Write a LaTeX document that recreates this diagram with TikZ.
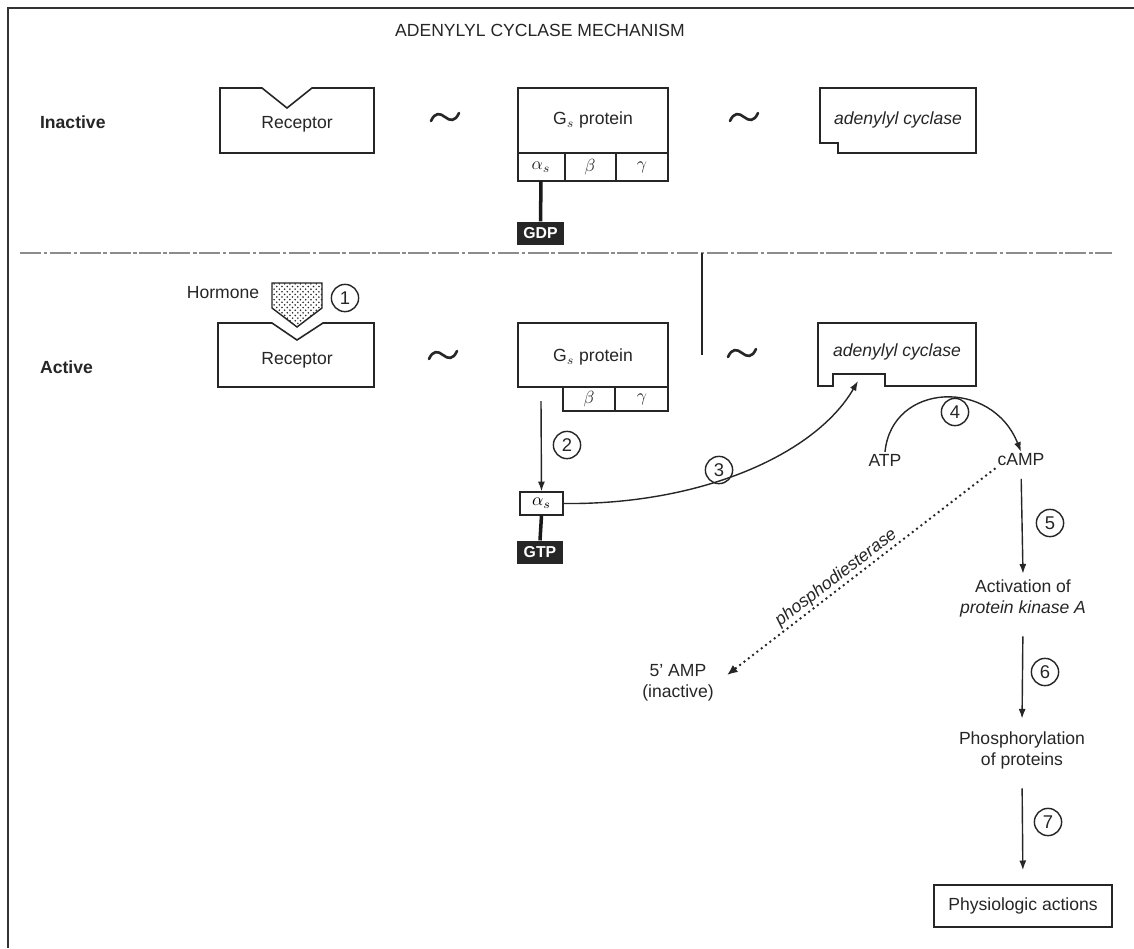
\documentclass[tikz,border=0pt]{standalone}
\usepackage{fontspec}
\setmainfont{Liberation Sans}
\usetikzlibrary{arrows.meta,patterns,calc}
\begin{document}
\begin{tikzpicture}[x=0.02cm,y=-0.02cm,
  lbl/.style={font=\fontsize{10}{12}\selectfont, text=black!85, inner sep=1pt},
  side/.style={lbl, anchor=west, font=\fontsize{10}{12}\selectfont\bfseries},
  numc/.style={circle,draw=black!85,line width=0.8pt,minimum size=15.5pt,inner sep=0pt,font=\fontsize{10.5}{10}\selectfont,text=black!85},
  boxline/.style={draw=black!85,line width=0.9pt},
  arr/.style={draw=black!85,line width=0.8pt,-{Latex[length=5.5pt,width=4pt]}},
  nucl/.style={fill=black!85,text=white,font=\fontsize{9}{10}\selectfont\bfseries,inner sep=0pt,minimum width=0.93cm,minimum height=0.47cm},
  subbox/.style={draw=black!85,line width=0.8pt,inner sep=0pt,minimum width=0.86cm,minimum height=0.46cm,font=\fontsize{10}{10}\selectfont},
  pics/tildemark/.style={code={\draw[black!85,line width=1.5pt,line cap=round] (-14,4) .. controls (-10,-5) and (-5,-4) .. (0,0) .. controls (5,4) and (10,5) .. (14,-4);}}
]
\useasboundingbox (0,0) rectangle (1134,948);
\fill[white] (0,0) rectangle (1134,948);
% frame
\draw[black!80,line width=0.9pt] (8,948) -- (8,8) -- (1134,8);
% title and row labels
\node[lbl] (title) at (540,30) {ADENYLYL CYCLASE MECHANISM};
\node[side] (inact) at (38,122) {Inactive};
\node[side] (act) at (38,367) {Active};
% separator
\draw[black!45,line width=0.6pt,dash pattern=on 12pt off 1.5pt on 2pt off 1.5pt] (20,253) -- (1112,253);
\draw[black!85,line width=1.2pt] (702,253) -- (702,355);

% ---------------- inactive row ----------------
\draw[boxline] (220,88) -- (262,88) -- (287,108) -- (312,88) -- (374,88) -- (374,153) -- (220,153) -- cycle;
\node[lbl] (recI) at (297,124) {Receptor};
\pic at (445,117) {tildemark};
\draw[boxline] (518,88) rectangle (668,181);
\draw[boxline] (518,153) -- (668,153) (565,153) -- (565,181) (616,153) -- (616,181);
\node[lbl] (gI) at (593,120) {G$_s$ protein};
\node[lbl] (aI) at (541,167) {$\alpha_s$};
\node[lbl] (bI) at (590,167) {$\beta$};
\node[lbl] (cI) at (642,167) {$\gamma$};
\coordinate (aIb) at (541,181);
\node[nucl] (gdp) at (540.5,233.5) {GDP};
\draw[black!90,line width=2pt] (aIb) -- (gdp.north);
\pic at (744,117) {tildemark};
\draw[boxline] (820,88) -- (976,88) -- (976,153) -- (838,153) -- (838,143) -- (820,143) -- cycle;
\node[lbl,font=\fontsize{10}{12}\selectfont\itshape] (acI) at (898,120) {adenylyl cyclase};

% ---------------- active row ----------------
\node[lbl] (horm) at (223,293) {Hormone};
\draw[draw=black!85,line width=0.8pt,pattern=crosshatch dots,pattern color=black!85] (272,283) -- (322,283) -- (322,308) -- (297,327) -- (272,308) -- cycle;
\node (hshape) at (297,300) {};
\node[numc] (n1) at (345,298) {1};
\draw[boxline] (218,323) -- (272,323) -- (297,340) -- (323,323) -- (374,323) -- (374,387) -- (218,387) -- cycle;
\node[lbl] (recA) at (297,360) {Receptor};
\pic at (443,355) {tildemark};
\draw[boxline] (518,323) rectangle (668,387);
\draw[boxline] (563,387) rectangle (668,411) (615,387) -- (615,411);
\node[lbl] (gA) at (593,357) {G$_s$ protein};
\node[lbl] (bA) at (589,399) {$\beta$};
\node[lbl] (cA) at (642,399) {$\gamma$};
\coordinate (gAout) at (541,401);
\node[subbox] (alphaA) at (541.5,503.5) {$\alpha_s$};
\node[nucl] (gtp) at (540,552.5) {GTP};
\draw[black!90,line width=2pt] (alphaA.south) -- (gtp.north);
\draw[arr] (gAout) -- (alphaA.north);
\node[numc] (n2) at (567,445) {2};
\pic at (742,353) {tildemark};
\draw[boxline] (818,323) -- (976,323) -- (976,386) -- (885,386) -- (885,374) -- (833,374) -- (833,386) -- (818,386) -- cycle;
\node[lbl,font=\fontsize{10}{12}\selectfont\itshape] (acA) at (897,352) {adenylyl cyclase};
\coordinate (notchA) at (858,381);
\draw[arr] (alphaA.east) .. controls (700,505) and (815,455) .. (notchA);
\node[numc] (n3) at (719,470) {3};
\node[lbl] (atp) at (885,460) {ATP};
\node[lbl] (camp) at (1021,460) {cAMP};
\draw[arr] (atp.north) .. controls (892,382) and (992,378) .. (camp.north);
\node[numc] (n4) at (955,412) {4};
% breakdown
\node[lbl,align=center] (amp) at (678,683) {5’ AMP\\(inactive)};
\coordinate (ampT) at (727,675);
\draw[black!85,line width=1.1pt,dotted,-{Latex[length=6pt,width=5pt]}] (camp.south west) -- (ampT);
\path (ampT) -- node[pos=0.43,sloped,above,lbl,font=\fontsize{10}{12}\selectfont\itshape] (pde) {phosphodiesterase} (camp.south west);
% cascade
\node[lbl,align=center,inner sep=3pt] (pka) at (1023,598) {Activation of\\\textit{protein kinase A}};
\draw[arr,shorten <=6pt] (camp.south) -- (pka.north);
\node[numc] (n5) at (1050,523) {5};
\node[lbl,align=center,inner sep=3pt] (phos) at (1022,750) {Phosphorylation\\of proteins};
\draw[arr,shorten <=8pt,shorten >=4pt] (pka.south) -- (phos.north);
\node[numc] (n6) at (1045,672) {6};
\node[draw=black!85,line width=0.9pt,lbl,minimum width=3.56cm,minimum height=0.84cm] (phys) at (1023,906) {Physiologic actions};
\draw[arr,shorten <=8pt,shorten >=8pt] (phos.south) -- (phys.north);
\node[numc] (n7) at (1048,822) {7};
\end{tikzpicture}
\end{document}
